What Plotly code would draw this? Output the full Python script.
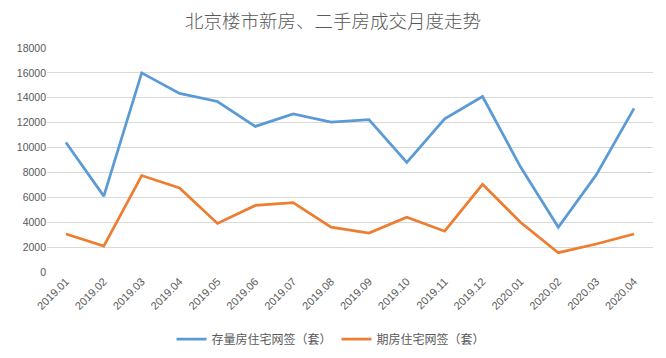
import plotly.graph_objects as go

months = ["2019.01", "2019.02", "2019.03", "2019.04", "2019.05", "2019.06", "2019.07", "2019.08",
          "2019.09", "2019.10", "2019.11", "2019.12", "2020.01", "2020.02", "2020.03", "2020.04"]
existing = [10400, 6100, 16000, 14350, 13700, 11700, 12700, 12050,
            12250, 8800, 12300, 14100, 8450, 3600, 7800, 13150]
presale = [3050, 2080, 7750, 6750, 3900, 5350, 5580, 3600,
           3130, 4400, 3280, 7050, 4000, 1550, 2250, 3050]

name_existing = "存量房住宅网签（套）"
name_presale = "期房住宅网签（套）"
title_text = "北京楼市新房、二手房成交月度走势"

cjk = "Noto Sans CJK SC"
grey = "#595959"

fig = go.Figure()
fig.add_trace(go.Scatter(x=months, y=existing, mode="lines", name=name_existing,
                         line=dict(color="#5B9BD5", width=2.75)))
fig.add_trace(go.Scatter(x=months, y=presale, mode="lines", name=name_presale,
                         line=dict(color="#ED7D31", width=2.75)))

W, H = 666, 358
fig.update_layout(
    width=W, height=H,
    margin=dict(l=39, r=21, t=40, b=94, autoexpand=False),
    paper_bgcolor="white", plot_bgcolor="white",
    title=dict(text=title_text, x=325 / W, xanchor="center", xref="container",
               y=1 - 13.5 / H, yanchor="middle", yref="container",
               font=dict(family=cjk, size=18.5, color=grey, weight=300)),
    legend=dict(orientation="h", x=323 / W, xanchor="center", xref="container",
                y=1 - 331 / H, yanchor="middle", yref="container",
                font=dict(family=cjk, size=12, color=grey), itemwidth=30,
                tracegroupgap=0, bgcolor="rgba(0,0,0,0)"),
    xaxis=dict(type="category", showgrid=False, showline=False, zeroline=False,
               ticks="", tickangle=-45, automargin=False,
               tickfont=dict(family="Liberation Sans", size=11, color=grey),
               range=[-0.5, len(months) - 0.5]),
    yaxis=dict(range=[0, 18000], dtick=2000, showgrid=True, gridcolor="#D9D9D9",
               gridwidth=1, zeroline=False, showline=False, ticks="",
               tickformat="d", automargin=False,
               tickfont=dict(family="Liberation Sans", size=10.5, color=grey)),
)

fig.write_html("out.html")
